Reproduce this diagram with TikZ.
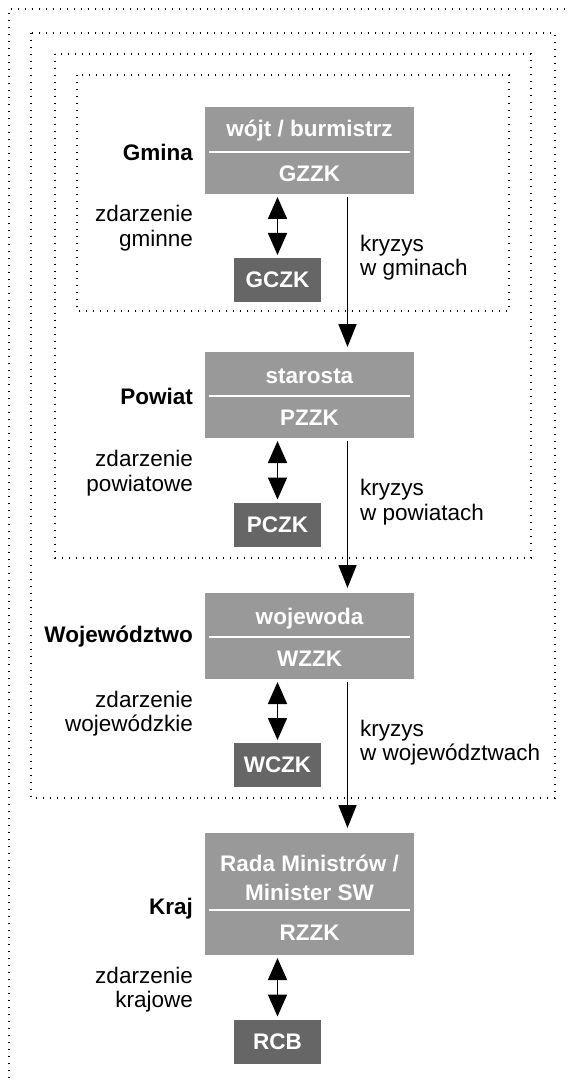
\documentclass[tikz,border=0pt]{standalone}
\usepackage{fontspec}
\setmainfont{Liberation Sans}
\usetikzlibrary{arrows.meta}
\definecolor{boxlight}{HTML}{999999}
\definecolor{boxdark}{HTML}{666666}
\tikzset{
  zzk/.style={fill=boxlight, draw=none, minimum width=209pt, inner sep=0pt, outer sep=0pt},
  czk/.style={fill=boxdark, draw=none, minimum width=87pt, minimum height=44pt, inner sep=0pt, outer sep=0pt, text=white, font=\fontsize{22.5}{25}\selectfont\bfseries},
  intext/.style={text=white, font=\fontsize{22.5}{29}\selectfont\bfseries, inner sep=0pt, align=center},
  lvl/.style={anchor=east, inner sep=0pt, font=\fontsize{22.5}{25}\selectfont\bfseries},
  evt/.style={anchor=east, inner sep=0pt, align=right, font=\fontsize{22.5}{24.5}\selectfont},
  kryz/.style={anchor=west, inner sep=0pt, align=left, font=\fontsize{22.5}{24.5}\selectfont},
  sep/.style={draw=white, line width=1.5pt},
  dotline/.style={draw=black, line width=1.4pt, dash pattern=on 1.4pt off 5.6pt},
  dbl/.style={line width=1.7pt, {Triangle[width=19pt,length=22pt]}-{Triangle[width=19pt,length=22pt]}, shorten <=3pt, shorten >=3pt},
  down/.style={line width=1.7pt, -{Triangle[width=18pt,length=23pt]}, shorten <=3pt, shorten >=5pt},
}
\begin{document}
\begin{tikzpicture}[x=1pt, y=-1pt]
\useasboundingbox (0,0) rectangle (569,1083);
\clip (0,0) rectangle (569,1083);
% dotted frames
\draw[dotline] (9,1078) -- (9,9) -- (575,9);
\draw[dotline] (31,33) rectangle (555,798);
\draw[dotline] (55,54) rectangle (531,558);
\draw[dotline] (77,75) rectangle (509,311);
\coordinate (ax) at (347.5,0);
% Gmina
\node[zzk, minimum height=87pt] (gz) at (309.5,150.5) {};
\node[intext] (gzt) at (309.5,131) {wójt / burmistrz};
\node[intext] (gzb) at (309.5,173.5) {GZZK};
\draw[sep] ([xshift=4pt]gz.west |- 0,152) -- ([xshift=-4pt]gz.east |- 0,152);
\node[lvl] (gl) at (193,152) {Gmina};
\node[czk] (gc) at (277.5,280) {GCZK};
\node[evt] (ge) at (193,228) {zdarzenie\\gminne};
\node[kryz] (gk) at (360,257.5) {kryzys\\w gminach};
% Powiat
\node[zzk, minimum height=86pt] (pz) at (309.5,395) {};
\node[intext] (pzt) at (309.5,376) {starosta};
\node[intext] (pzb) at (309.5,418) {PZZK};
\draw[sep] ([xshift=4pt]pz.west |- 0,396) -- ([xshift=-4pt]pz.east |- 0,396);
\node[lvl] (pl) at (193,396) {Powiat};
\node[czk] (pc) at (277.5,524.5) {PCZK};
\node[evt] (pe) at (193,473) {zdarzenie\\powiatowe};
\node[kryz] (pk) at (360,502) {kryzys\\w powiatach};
% Wojewodztwo
\node[zzk, minimum height=86pt] (wz) at (309.5,636) {};
\node[intext] (wzt) at (309.5,619) {wojewoda};
\node[intext] (wzb) at (309.5,659) {WZZK};
\draw[sep] ([xshift=4pt]wz.west |- 0,637) -- ([xshift=-4pt]wz.east |- 0,637);
\node[lvl] (wl) at (193,637) {Województwo};
\node[czk] (wc) at (277.5,765) {WCZK};
\node[evt] (we) at (193,713.5) {zdarzenie\\wojewódzkie};
\node[kryz] (wk) at (360,742.5) {kryzys\\w województwach};
% Kraj
\node[zzk, minimum height=122pt] (rz) at (309.5,894) {};
\node[intext] (rzt) at (309.5,877.5) {Rada Ministrów /\\Minister SW};
\node[intext] (rzb) at (309.5,933) {RZZK};
\draw[sep] ([xshift=4pt]rz.west |- 0,910) -- ([xshift=-4pt]rz.east |- 0,910);
\node[lvl] (rl) at (193,909) {Kraj};
\node[czk] (rc) at (277.5,1041.5) {RCB};
\node[evt] (re) at (193,989.5) {zdarzenie\\krajowe};
% connectors
\draw[dbl] (gz.south -| gc) -- (gc.north);
\draw[dbl] (pz.south -| pc) -- (pc.north);
\draw[dbl] (wz.south -| wc) -- (wc.north);
\draw[dbl] (rz.south -| rc) -- (rc.north);
\draw[down] (gz.south -| ax) -- (pz.north -| ax);
\draw[down] (pz.south -| ax) -- (wz.north -| ax);
\draw[down] (wz.south -| ax) -- (rz.north -| ax);
\end{tikzpicture}
\end{document}
